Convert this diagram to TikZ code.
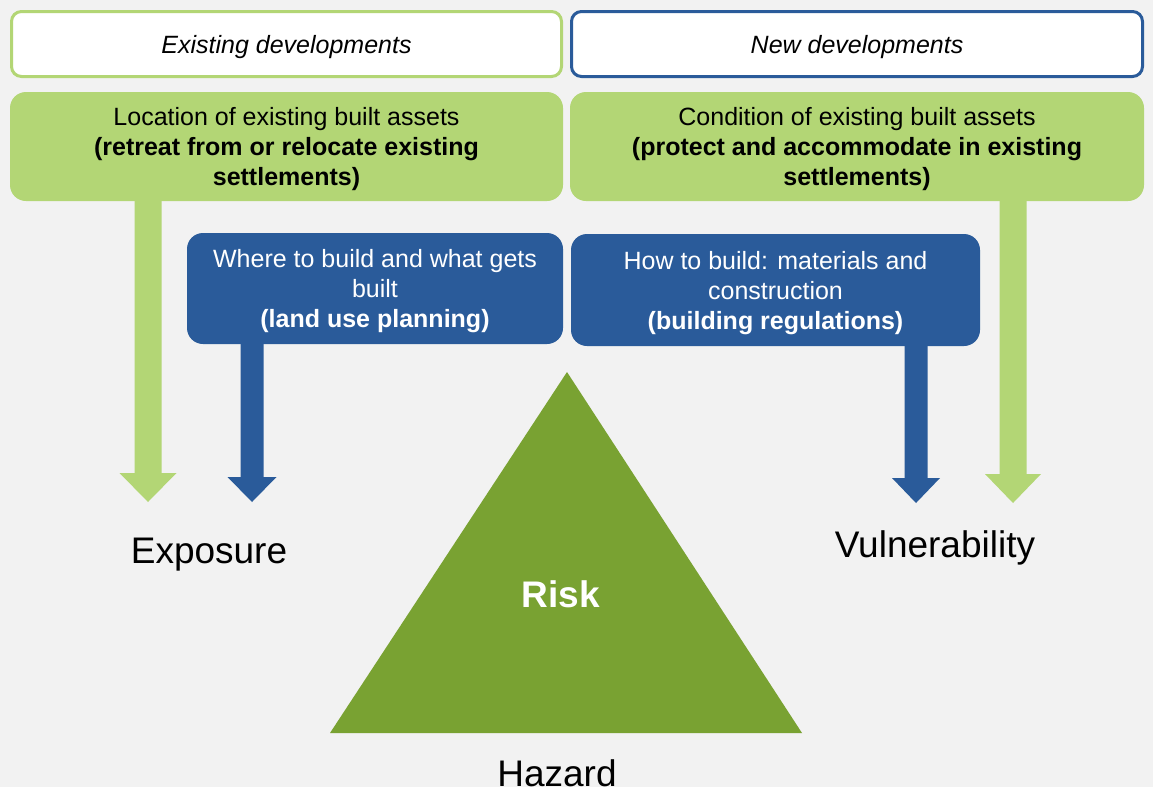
\documentclass[tikz,border=0pt]{standalone}
\usepackage{fontspec}
\setmainfont{Liberation Sans}
\usetikzlibrary{calc}
\definecolor{bgc}{HTML}{F2F2F2}
\definecolor{lgreen}{HTML}{B3D675}
\definecolor{dblue}{HTML}{2A5B9A}
\definecolor{dgreen}{HTML}{79A232}
% #1 colour, #2 shaft start, #3 tip, #4 shaft half width, #5 head half width, #6 head length
\newcommand{\blockarrow}[6]{%
  \fill[#1] ([xshift=-#4]#2) -- ([xshift=-#4,yshift=#6]#3) -- ([xshift=-#5,yshift=#6]#3) -- (#3)
    -- ([xshift=#5,yshift=#6]#3) -- ([xshift=#4,yshift=#6]#3) -- ([xshift=#4]#2) -- cycle;}
\begin{document}
\begin{tikzpicture}[x=1pt,y=-1pt,
  hdr/.style={draw, line width=3pt, fill=white, rounded corners=10pt, inner sep=0pt, text depth=0pt,
    font=\fontsize{25}{30}\selectfont\itshape},
  gbox/.style={fill=lgreen, rounded corners=16pt, inner sep=0pt, align=center, text depth=0pt,
    font=\fontsize{25}{30}\selectfont, text=black},
  bbox/.style={fill=dblue, rounded corners=16pt, inner sep=0pt, align=center, text depth=0pt,
    font=\fontsize{25}{30}\selectfont, text=white},
  lbl/.style={anchor=base, inner sep=0pt, font=\fontsize{37}{44}\selectfont}]
\fill[bgc] (0,0) rectangle (1153,787);
\useasboundingbox (0,0) rectangle (1153,787);

% headers
\node[hdr, draw=lgreen, minimum width=550pt, minimum height=65pt] (hdrL) at (286.5,44) {Existing developments};
\node[hdr, draw=dblue, minimum width=571pt, minimum height=65pt] (hdrR) at (857,44) {New developments};

% green boxes
\node[gbox, minimum width=553pt, minimum height=109pt] (grnL) at (286.5,146.5)
  {Location of existing built assets\\\textbf{(retreat from or relocate existing}\\\textbf{settlements)}};
\node[gbox, minimum width=574pt, minimum height=109pt] (grnR) at (857,146.5)
  {Condition of existing built assets\\\textbf{(protect and accommodate in existing}\\\textbf{settlements)}};

% blue boxes
\node[bbox, minimum width=376pt, minimum height=111pt] (bluL) at (375,288.5)
  {Where to build and what gets\\built\\\textbf{(land use planning)}};
\node[bbox, minimum width=409pt, minimum height=112pt] (bluR) at (775.5,290)
  {How to build: materials and\\construction\\\textbf{(building regulations)}};

% arrows
\coordinate (tA) at (148,502);
\coordinate (tB) at (252,502);
\coordinate (tC) at (916,503);
\coordinate (tD) at (1013,503);
\path (tA |- grnL.south) ++(0,-3) coordinate (sA);
\path (tB |- bluL.south) ++(0,-3) coordinate (sB);
\path (tC |- bluR.south) ++(0,-3) coordinate (sC);
\path (tD |- grnR.south) ++(0,-3) coordinate (sD);
\blockarrow{lgreen}{sA}{tA}{13.5pt}{28.5pt}{29pt}
\blockarrow{dblue}{sB}{tB}{11.5pt}{24.5pt}{25pt}
\blockarrow{dblue}{sC}{tC}{11.5pt}{24pt}{25pt}
\blockarrow{lgreen}{sD}{tD}{13.5pt}{28pt}{29pt}

% triangle
\coordinate (triTop) at (567,372);
\coordinate (triR) at (802,733);
\coordinate (triL) at (330,733);
\fill[dgreen] (triTop) -- (triR) -- (triL) -- cycle;

% labels
\node[lbl] (expo) at (209,563) {Exposure};
\node[lbl] (vuln) at (935,557) {Vulnerability};
\node[lbl, text=white, font=\fontsize{37}{44}\selectfont\bfseries] (risk) at (561,607) {Risk};
\node[lbl] (haz) at (557,786) {Hazard};
\end{tikzpicture}
\end{document}
